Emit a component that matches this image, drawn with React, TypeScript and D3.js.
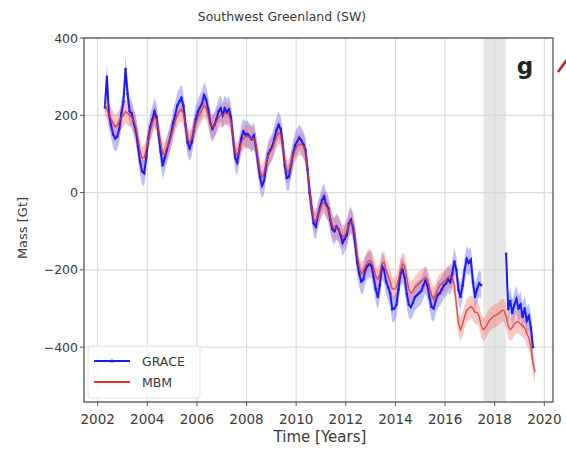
import React from "react";
import * as d3 from "d3";

// ---- data (monthly, Gt) ----
const graceStart = 2002.29;
const graceMass = [
  // 2002 Apr-Dec
  220, 300, 200, 175, 150, 140, 145, 165, 205,
  // 2003
  235, 320, 255, 210, 205, 180, 160, 120, 80, 55, 50, 90,
  // 2004
  140, 170, 190, 210, 195, 150, 105, 70, 90, 110, 130, 150,
  // 2005
  180, 200, 225, 235, 245, 225, 175, 130, 115, 130, 160, 190,
  // 2006
  210, 220, 230, 252, 240, 215, 180, 165, 175, 190, 210, 218,
  // 2007
  200, 218, 208, 215, 195, 140, 90, 78, 110, 140, 158, 150,
  // 2008
  152, 145, 138, 148, 120, 80, 40, 18, 30, 70, 100, 110,
  // 2009
  120, 140, 162, 175, 165, 128, 70, 38, 40, 70, 100, 122,
  // 2010
  132, 142, 135, 125, 110, 60, 0, -40, -80, -88, -60, -40,
  // 2011
  -20, -10, -30, -40, -70, -95, -100, -88, -95, -110, -130, -120,
  // 2012
  -110, -80, -70, -90, -130, -180, -210, -230, -225, -200, -190, -185,
  // 2013
  -190, -220, -250, -270, -240, -190, -200, -230, -245, -262, -302, -300,
  // 2014
  -290, -250, -210, -200, -220, -262, -290, -296, -285, -270, -265, -260,
  // 2015
  -255, -240, -228, -240, -272, -296, -300, -280, -265, -260, -250, -240,
  // 2016
  -235, -225, -232, -210, -178, -200, -252, -270, -240, -200, -172, -182,
  // 2017 Jan-Jun
  -174, -232, -270, -250, -235, -240,
];

const graceFOStart = 2018.46;
const graceFOMass = [
  // 2018 Jun-Dec
  -158, -302, -280, -312, -290, -275, -300,
  // 2019 Jan-Jul
  -290, -322, -300, -332, -320, -350, -400,
];

const mbmStart = 2002.29;
const mbmMass = [
  // 2002 Apr-Dec
  230, 215, 200, 190, 180, 170, 175, 185, 195,
  // 2003
  200, 210, 205, 200, 195, 185, 170, 140, 110, 90, 90, 110,
  // 2004
  140, 160, 180, 195, 190, 160, 130, 100, 100, 115, 130, 145,
  // 2005
  165, 185, 200, 210, 215, 205, 170, 140, 130, 140, 160, 180,
  // 2006
  195, 205, 215, 225, 220, 200, 175, 170, 175, 185, 195, 200,
  // 2007
  200, 205, 205, 200, 185, 140, 105, 95, 110, 130, 140, 145,
  // 2008
  145, 145, 140, 140, 125, 90, 55, 40, 50, 75, 95, 105,
  // 2009
  115, 130, 145, 155, 150, 125, 80, 55, 55, 75, 95, 110,
  // 2010
  120, 125, 125, 120, 105, 60, 10, -35, -70, -75, -60, -45,
  // 2011
  -30, -25, -35, -45, -65, -85, -95, -90, -95, -105, -115, -110,
  // 2012
  -100, -85, -75, -80, -110, -160, -195, -210, -205, -190, -180, -175,
  // 2013
  -180, -195, -215, -225, -210, -185, -180, -200, -215, -230, -250, -250,
  // 2014
  -245, -225, -200, -185, -190, -220, -250, -260, -255, -245, -240, -235,
  // 2015
  -230, -225, -220, -225, -245, -265, -275, -265, -250, -240, -235, -230,
  // 2016
  -225, -220, -215, -220, -240, -290, -340, -355, -340, -320, -305, -300,
  // 2017
  -295, -300, -310, -310, -320, -345, -355, -350, -340, -330, -325, -320,
  // 2018
  -318, -315, -310, -305, -305, -320, -345, -355, -350, -340, -335, -335,
  // 2019 Jan-Aug
  -340, -345, -350, -365, -375, -400, -440, -465,
];

const graceSigma = 34;
const mbmSigma = 30;

const gapStart = 2017.55;
const gapEnd = 2018.45;

const xTicks = [2002, 2004, 2006, 2008, 2010, 2012, 2014, 2016, 2018, 2020];
const yTicks = [400, 200, 0, -200, -400];

const title = "Southwest Greenland (SW)";
const panelLabel = "g";
const xLabel = "Time [Years]";
const yLabel = "Mass [Gt]";
const legendNames = ["GRACE", "MBM"];

type Pt = { t: number; v: number };
const toPts = (start: number, vals: number[]): Pt[] =>
  vals.map((v, i) => ({ t: start + i / 12, v }));

export default function App() {
  const W = 566;
  const H = 449;
  const left = 84, right = 553, top = 38, bottom = 402;
  const x = d3.scaleLinear().domain([2001.45, 2020.35]).range([left, right]);
  const y = d3.scaleLinear().domain([-542, 400]).range([bottom, top]);

  const graceA = toPts(graceStart, graceMass);
  const graceB = toPts(graceFOStart, graceFOMass);
  const mbm = toPts(mbmStart, mbmMass);

  const line = d3.line<Pt>().x((d) => x(d.t)).y((d) => y(d.v));
  const area = (s: number) =>
    d3.area<Pt>().x((d) => x(d.t)).y0((d) => y(d.v - s)).y1((d) => y(d.v + s));

  const font = "DejaVu Sans, sans-serif";
  const blue = "#1a1aff";
  const red = "#e8322a";
  const txt = "#3a3a3a";

  return (
    <svg
      width={W}
      height={H}
      style={{ position: "absolute", left: 0, top: 0, background: "#fff" }}
      fontFamily={font}
    >
      <defs>
        <clipPath id="plot">
          <rect x={left} y={top} width={right - left} height={bottom - top} />
        </clipPath>
      </defs>
      <text x={282} y={21} fontSize={12.5} textAnchor="middle" fill={txt}>
        {title}
      </text>

      {/* grid */}
      {xTicks.map((t) => (
        <line key={"gx" + t} x1={x(t)} x2={x(t)} y1={top} y2={bottom} stroke="#dcdcdc" strokeWidth={1.2} />
      ))}
      {yTicks.map((v) => (
        <line key={"gy" + v} x1={left} x2={right} y1={y(v)} y2={y(v)} stroke="#dcdcdc" strokeWidth={1.2} />
      ))}

      {/* gap band */}
      <rect x={x(gapStart)} y={top} width={x(gapEnd) - x(gapStart)} height={bottom - top} fill="#d6d6d6" opacity={0.6} />

      <g clipPath="url(#plot)">
        <path d={area(graceSigma)(graceA) || ""} fill="#5a5aff" opacity={0.4} />
        <path d={area(graceSigma)(graceB) || ""} fill="#5a5aff" opacity={0.4} />
        <path d={area(mbmSigma)(mbm) || ""} fill="#f26b63" opacity={0.38} />
        <path d={line(graceA) || ""} fill="none" stroke={blue} strokeWidth={2} />
        <path d={line(graceB) || ""} fill="none" stroke={blue} strokeWidth={2} />
        {graceA.concat(graceB).map((d, i) => (
          <circle key={"m" + i} cx={x(d.t)} cy={y(d.v)} r={1.2} fill={blue} />
        ))}
        <path d={line(mbm) || ""} fill="none" stroke={red} strokeWidth={1.4} opacity={0.85} />
      </g>

      {/* frame */}
      <rect x={left} y={top} width={right - left} height={bottom - top} fill="none" stroke="#555" strokeWidth={1.3} />

      {/* ticks */}
      {xTicks.map((t) => (
        <g key={"xt" + t}>
          <line x1={x(t)} x2={x(t)} y1={bottom} y2={bottom + 4} stroke="#555" />
          <text x={x(t)} y={bottom + 22} fontSize={13.5} textAnchor="middle" fill={txt}>
            {t}
          </text>
        </g>
      ))}
      {yTicks.map((v) => (
        <g key={"yt" + v}>
          <line x1={left - 4} x2={left} y1={y(v)} y2={y(v)} stroke="#555" />
          <text x={left - 6} y={y(v) + 4.5} fontSize={12.5} textAnchor="end" fill={txt}>
            {v < 0 ? "\u2212" + Math.abs(v) : String(v)}
          </text>
        </g>
      ))}

      <text x={320} y={442} fontSize={15} textAnchor="middle" fill={txt}>
        {xLabel}
      </text>
      <text transform={`translate(27,228) rotate(-90)`} fontSize={13} textAnchor="middle" fill={txt}>
        {yLabel}
      </text>

      {/* panel label */}
      <text x={525} y={74} fontSize={23} fontWeight="bold" textAnchor="middle" fill="#222">
        {panelLabel}
      </text>
      {/* red arrow fragment at right edge */}
      <line x1={558} y1={72} x2={568} y2={58} stroke="#c8201a" strokeWidth={2.5} />

      {/* legend */}
      <g>
        <rect x={88} y={346} width={112} height={52} fill="#fff" fillOpacity={0.8} stroke="#e4e4e4" rx={3} />
        <line x1={94} x2={130} y1={361} y2={361} stroke={blue} strokeWidth={1.8} />
        <circle cx={112} cy={361} r={1.6} fill={blue} />
        <text x={142} y={366} fontSize={12.5} fill={txt}>{legendNames[0]}</text>
        <line x1={94} x2={130} y1={382} y2={382} stroke={red} strokeWidth={1.8} />
        <text x={142} y={387} fontSize={12.5} fill={txt}>{legendNames[1]}</text>
      </g>
    </svg>
  );
}
